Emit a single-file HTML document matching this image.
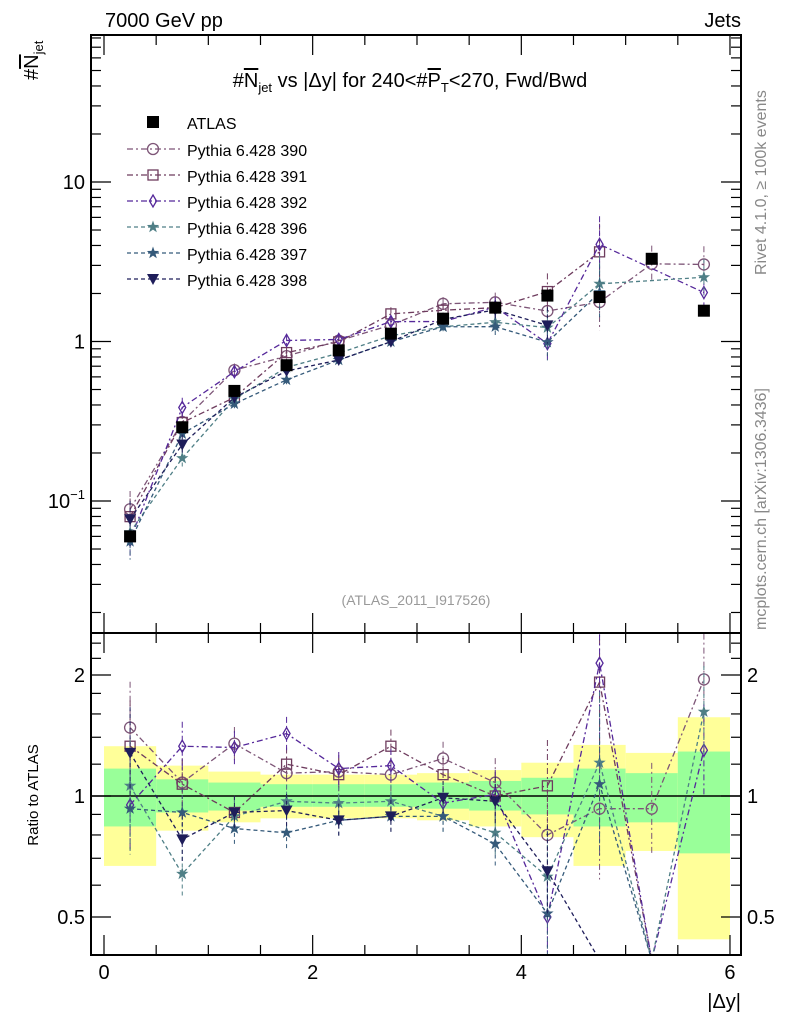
<!DOCTYPE html>
<html><head><meta charset="utf-8"><style>
body{margin:0;background:#fff}
svg{font-family:"Liberation Sans",sans-serif}
</style></head><body>
<svg id="c" width="786" height="1024" xmlns="http://www.w3.org/2000/svg">
<defs>
<clipPath id="cm"><rect x="91" y="35" width="650" height="598"/></clipPath>
<clipPath id="cr"><rect x="91" y="633" width="650" height="322"/></clipPath>
</defs>
<text x="105" y="27" font-size="20">7000 GeV pp</text>
<text x="741" y="27" font-size="20" text-anchor="end">Jets</text>
<text transform="translate(38,80) rotate(-90)" font-size="20">#<tspan text-decoration="overline">N</tspan><tspan font-size="13" dy="5">jet</tspan></text>
<text x="410" y="87" font-size="20" text-anchor="middle">#<tspan text-decoration="overline">N</tspan><tspan font-size="13" dy="5">jet</tspan><tspan dy="-5"> vs |Δy| for 240&lt;#</tspan><tspan text-decoration="overline">P</tspan><tspan font-size="13" dy="5">T</tspan><tspan dy="-5">&lt;270, Fwd/Bwd</tspan></text>
<text transform="translate(766,275) rotate(-90)" font-size="16" fill="#888">Rivet 4.1.0, ≥ 100k events</text>
<text transform="translate(766,630) rotate(-90)" font-size="16" fill="#888">mcplots.cern.ch [arXiv:1306.3436]</text>
<text x="416" y="605" font-size="14" fill="#999" text-anchor="middle">(ATLAS_2011_I917526)</text>
<text transform="translate(38,795) rotate(-90)" font-size="15" text-anchor="middle">Ratio to ATLAS</text>
<text x="741" y="1008" font-size="20" text-anchor="end">|Δy|</text>
<g id="bands"></g><g id="marksM" clip-path="url(#cm)"></g><g id="marksR" clip-path="url(#cr)"></g><g id="atl"></g><g id="axes"></g><g id="legend"></g>
</svg>
<script>
const xCenters=[0.25,0.75,1.25,1.75,2.25,2.75,3.25,3.75,4.25,4.75,5.25,5.75];
const atlas=[0.06,0.29,0.49,0.71,0.88,1.12,1.39,1.63,1.94,1.9,3.3,1.56];
const r390=[1.48,1.08,1.35,1.14,1.15,1.13,1.24,1.08,0.80,0.93,0.93,1.95];
const r391=[1.33,1.07,0.91,1.20,1.13,1.33,1.13,1.0,1.06,1.92,0,0];
const r392=[0.95,1.33,1.32,1.43,1.17,1.19,0.96,1.01,0.5,2.14,0,1.30];
const r396=[1.06,0.64,0.89,0.97,0.96,0.97,0.89,0.81,0.63,1.21,0,1.62];
const r397=[0.93,0.91,0.83,0.81,0.87,0.89,0.89,0.76,0.51,1.07,0,0];
const r398=[1.28,0.78,0.91,0.92,0.87,0.89,0.99,0.97,0.65,0,0,0];
const relErr=[0.3,0.15,0.1,0.1,0.1,0.1,0.1,0.15,0.3,0.5,0.3,0.3];
const yelUp=[1.33,1.19,1.15,1.13,1.13,1.13,1.14,1.16,1.21,1.34,1.28,1.57];
const yelDn=[0.67,0.82,0.86,0.88,0.88,0.88,0.87,0.84,0.79,0.67,0.73,0.44];
const grnUp=[1.17,1.10,1.08,1.07,1.07,1.07,1.08,1.09,1.11,1.17,1.14,1.29];
const grnDn=[0.84,0.91,0.92,0.94,0.94,0.94,0.93,0.92,0.90,0.84,0.86,0.72];
const labels=["Pythia 6.428 390","Pythia 6.428 391","Pythia 6.428 392","Pythia 6.428 396","Pythia 6.428 397","Pythia 6.428 398"];
const NS="http://www.w3.org/2000/svg";
const X=v=>104+v*104.33;
const Y=v=>182-(Math.log10(v)-1)*159.5;
const R=v=>796-Math.log10(v)*402;
const L=91,RT=741,T1=35,B1=633,B2=955;
function el(t,a,p){const e=document.createElementNS(NS,t);for(const k in a)e.setAttribute(k,a[k]);p.appendChild(e);return e;}
const bands=document.getElementById('bands'),mM=document.getElementById('marksM'),mR=document.getElementById('marksR'),atl=document.getElementById('atl'),axes=document.getElementById('axes'),leg=document.getElementById('legend');
xCenters.forEach((c,i)=>{
 let y=el('rect',{x:X(c-0.25),y:R(yelUp[i]),width:X(0.5)-X(0),height:R(yelDn[i])-R(yelUp[i]),fill:'#ffff99'},bands);
 
 
 let g=el('rect',{x:X(c-0.25),y:R(grnUp[i]),width:X(0.5)-X(0),height:R(grnDn[i])-R(grnUp[i]),fill:'#99ff99'},bands);
 
 
});
const line1=el('line',{x1:L,x2:RT,y1:R(1),y2:R(1),stroke:'#000','stroke-width':1.5},bands);


const series=[
 {r:r390,c:'#7d5577',m:'circle',d:'6,3,2,3'},
 {r:r391,c:'#6e3c5e',m:'square',d:'6,3,2,3'},
 {r:r392,c:'#55289a',m:'diamond',d:'6,3,2,3'},
 {r:r396,c:'#4f7f86',m:'star',d:'4,3'},
 {r:r397,c:'#355a7a',m:'star',d:'4,3'},
 {r:r398,c:'#1e1d5a',m:'tri',d:'4,3'}];
function marker(type,x,y,c,p,name){
 let e;
 if(type==='circle')e=el('circle',{cx:x,cy:y,r:5.5,fill:'none',stroke:c,'stroke-width':1.3},p);
 else if(type==='square')e=el('rect',{x:x-5,y:y-5,width:10,height:10,fill:'none',stroke:c,'stroke-width':1.3},p);
 else if(type==='diamond')e=el('path',{d:`M${x},${y-6}L${x+3.5},${y}L${x},${y+6}L${x-3.5},${y}Z`,fill:'none',stroke:c,'stroke-width':1.3},p);
 else if(type==='star'){let d='';for(let k=0;k<10;k++){const a=-Math.PI/2+k*Math.PI/5,rr=k%2?2.6:6.5;d+=(k?'L':'M')+(x+rr*Math.cos(a)).toFixed(1)+','+(y+rr*Math.sin(a)).toFixed(1);}e=el('path',{d:d+'Z',fill:c},p);}
 else if(type==='tri')e=el('path',{d:`M${x-6},${y-5}L${x+6},${y-5}L${x},${y+6}Z`,fill:c},p);
 else e=el('rect',{x:x-6,y:y-6,width:12,height:12,fill:'#000'},p);
 
 
}
series.forEach((s,si)=>{
 const id=labels[si].split(' ')[2];
 let pm=[],pr=[];
 xCenters.forEach((c,i)=>{ if(s.r[i]==null)return;
  const x=X(c);
  if(s.r[i]<=0){pr.push([x,B2+5,false]);return;}
  const v=s.r[i]*atlas[i];
  pm.push([x,Y(v)]); pr.push([x,R(s.r[i]),true]);
  el('line',{x1:x,x2:x,y1:Y(v*(1+relErr[i])),y2:Y(v/(1+relErr[i])),stroke:s.c,'stroke-width':1,'stroke-dasharray':s.d},mM);
  el('line',{x1:x,x2:x,y1:R(s.r[i]*(1+relErr[i])),y2:R(s.r[i]/(1+relErr[i])),stroke:s.c,'stroke-width':1,'stroke-dasharray':s.d},mR);
 });
 const pl=el('polyline',{points:pm.map(p=>p[0]+','+p[1]).join(' '),fill:'none',stroke:s.c,'stroke-width':1.3,'stroke-dasharray':s.d},mM);
 
 
 pm.forEach(p=>marker(s.m,p[0],p[1],s.c,mM,'point-'+id));
 const pr2=el('polyline',{points:pr.map(p=>p[0]+','+p[1]).join(' '),fill:'none',stroke:s.c,'stroke-width':1.3,'stroke-dasharray':s.d},mR);
 
 
 pr.forEach(p=>{if(p[2])marker(s.m,p[0],p[1],s.c,mR,'ratio-point-'+id);});
});
xCenters.forEach((c,i)=>marker('atlas',X(c),Y(atlas[i]),'#000',atl,'atlas-point'));
[[T1,B1],[B1,B2]].forEach(([a,b])=>{const f=el('rect',{x:L,y:a,width:RT-L,height:b-a,fill:'none',stroke:'#000','stroke-width':2},axes);});
for(let dec=-2;dec<=1;dec++)for(let m=1;m<10;m++){const v=m*Math.pow(10,dec),y=Y(v);if(y<T1||y>B1)continue;const len=m===1?20:10;
 el('line',{x1:L,x2:L+len,y1:y,y2:y,stroke:'#000','stroke-width':1.2},axes);el('line',{x1:RT,x2:RT-len,y1:y,y2:y,stroke:'#000','stroke-width':1.2},axes);}
[[10,'10'],[1,'1']].forEach(([v,t])=>{const e=el('text',{x:L-6,y:Y(v)+7,'font-size':20,'text-anchor':'end'},axes);e.textContent=t;});
const tm=el('text',{x:L-6,y:Y(0.1)+7,'font-size':20,'text-anchor':'end'},axes);tm.innerHTML='10<tspan font-size="13" dy="-9">−1</tspan>';
[0.5,0.6,0.7,0.8,0.9,1,1.2,1.4,1.6,1.8,2,2.2,2.4].forEach(v=>{const y=R(v),len=(v===0.5||v===1||v===2)?20:10;
 el('line',{x1:L,x2:L+len,y1:y,y2:y,stroke:'#000','stroke-width':1.2},axes);el('line',{x1:RT,x2:RT-len,y1:y,y2:y,stroke:'#000','stroke-width':1.2},axes);});
[[2,'2'],[1,'1'],[0.5,'0.5']].forEach(([v,t])=>{let e=el('text',{x:L-6,y:R(v)+7,'font-size':20,'text-anchor':'end'},axes);e.textContent=t;e=el('text',{x:RT+6,y:R(v)+7,'font-size':20},axes);e.textContent=t;});
for(let v=0;v<=6.001;v+=0.5){const x=X(v),len=(Math.abs(v%2)<1e-6)?20:10;
 [B1,B2].forEach(b=>{el('line',{x1:x,x2:x,y1:b,y2:b-len,stroke:'#000','stroke-width':1.2},axes);});
 [T1,B1].forEach(t=>{el('line',{x1:x,x2:x,y1:t,y2:t+len,stroke:'#000','stroke-width':1.2},axes);});}
[0,2,4,6].forEach(v=>{const e=el('text',{x:X(v),y:979,'font-size':20,'text-anchor':'middle'},axes);e.textContent=v;});
const ly=[123,150,176,202,228,254,280];
marker('atlas',153,ly[0]-1,'#000',leg,'legend-atlas-marker');
let t0=el('text',{x:187,y:ly[0]+6,'font-size':16},leg);t0.textContent='ATLAS';


series.forEach((s,i)=>{const y=ly[i+1]-1;
 el('line',{x1:127,x2:180,y1:y,y2:y,stroke:s.c,'stroke-width':1.3,'stroke-dasharray':s.d},leg);
 marker(s.m,153,y,s.c,leg,'legend-marker');
 const t=el('text',{x:187,y:y+7,'font-size':16},leg);t.textContent=labels[i];
 
 
});
</script>
</body></html>
